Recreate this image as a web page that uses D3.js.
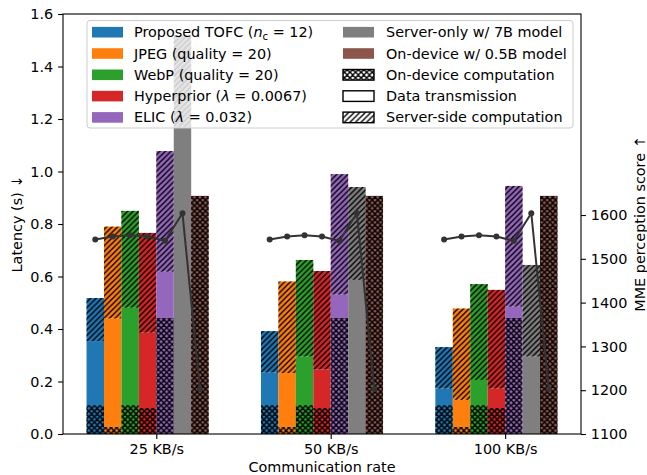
<!doctype html>
<html lang="en">
<head>
<meta charset="utf-8">
<script src="https://d3js.org/d3.v7.min.js"></script>
<style>
    html, body { margin: 0; padding: 0; background: #fff; }
    svg text { font-family: "DejaVu Sans", sans-serif; font-size: 14.4px; fill: #000; }
</style>
</head>
<body>
<svg id="svg" width="647" height="475"></svg>
<script>
    // ---- data ----
    var rates = ["25 KB/s", "50 KB/s", "100 KB/s"];
    var methods = ["Proposed TOFC", "JPEG", "WebP", "Hyperprior", "ELIC", "Server-only w/ 7B model", "On-device w/ 0.5B model"];
    var colors = ["#1f77b4", "#ff7f0e", "#2ca02c", "#d62728", "#9467bd", "#7f7f7f", "#8c564b"];

    // latency parts (s): one row per rate, one value per method
    var onDevice = [0.110, 0.028, 0.110, 0.099, 0.442, 0.0, 0.907];
    var transmission = [
        [0.244, 0.412, 0.371, 0.287, 0.176, 1.170, 0.0],
        [0.124, 0.204, 0.185, 0.147, 0.089, 0.587, 0.0],
        [0.063, 0.102, 0.096, 0.074, 0.043, 0.295, 0.0]
    ];
    var serverSide = [
        [0.164, 0.350, 0.369, 0.380, 0.460, 0.350, 0.0],
        [0.158, 0.349, 0.368, 0.375, 0.459, 0.354, 0.0],
        [0.158, 0.348, 0.365, 0.376, 0.460, 0.349, 0.0]
    ];
    // MME perception score (right axis)
    var scores = [
        [1544, 1551, 1554, 1551, 1541, 1604, 1203],
        [1544, 1551, 1554, 1551, 1541, 1604, 1203],
        [1544, 1551, 1554, 1551, 1541, 1604, 1203]
    ];
    var yTicks = [0.0, 0.2, 0.4, 0.6, 0.8, 1.0, 1.2, 1.4, 1.6];
    var y2Ticks = [1100, 1200, 1300, 1400, 1500, 1600];

    var svg = d3.select("#svg");
    var plotL = 63, plotR = 581, plotT = 14, plotB = 434;
    var barW = 0.1;

    var x = d3.scaleLinear().domain([-0.535, 2.435]).range([plotL, plotR]);
    var y = d3.scaleLinear().domain([0, 1.6]).range([plotB, plotT]);
    var y2 = d3.scaleLinear().domain([1100, 2059]).range([plotB, plotT]);

    // hatch patterns (matplotlib '///' and 'xxx', 18 lines per 100 px)
    var s = 100 / 18;
    var defs = svg.append("defs");
    var diagPath = "M0," + s + "L" + s + ",0" +
        "M" + (-s / 2) + "," + (s / 2) + "L" + (s / 2) + "," + (-s / 2) +
        "M" + (s / 2) + "," + (3 * s / 2) + "L" + (3 * s / 2) + "," + (s / 2);
    var backPath = "M0,0L" + s + "," + s +
        "M" + (-s / 2) + "," + (s / 2) + "L" + (s / 2) + "," + (3 * s / 2) +
        "M" + (s / 2) + "," + (-s / 2) + "L" + (3 * s / 2) + "," + (s / 2);
    defs.append("pattern").attr("id", "diag")
        .attr("patternUnits", "userSpaceOnUse").attr("width", s).attr("height", s)
        .append("path").attr("d", diagPath)
        .attr("stroke", "#000").attr("stroke-width", 1.4).attr("fill", "none");
    defs.append("pattern").attr("id", "cross")
        .attr("patternUnits", "userSpaceOnUse").attr("width", s).attr("height", s)
        .append("path").attr("d", diagPath + backPath)
        .attr("stroke", "#000").attr("stroke-width", 1.4).attr("fill", "none");

    // ---- bars ----
    var barLayer = svg.append("g");
    rates.forEach(function (rate, r) {
        methods.forEach(function (m, i) {
            var x0 = x(r + (i - 4) * barW), x1 = x(r + (i - 3) * barW);
            var parts = [
                [0, onDevice[i], "cross"],
                [onDevice[i], onDevice[i] + transmission[r][i], null],
                [onDevice[i] + transmission[r][i], onDevice[i] + transmission[r][i] + serverSide[r][i], "diag"]
            ];
            parts.forEach(function (p) {
                if (p[1] - p[0] <= 0) return;
                barLayer.append("rect")
                    .attr("x", x0).attr("width", x1 - x0)
                    .attr("y", y(p[1])).attr("height", y(p[0]) - y(p[1]))
                    .attr("fill", colors[i]);
                if (p[2]) {
                    barLayer.append("rect")
                        .attr("x", x0).attr("width", x1 - x0)
                        .attr("y", y(p[1])).attr("height", y(p[0]) - y(p[1]))
                        .attr("fill", "url(#" + p[2] + ")");
                }
            });
        });
    });

    // ---- score lines (one per rate group) ----
    var lineLayer = svg.append("g");
    var line = d3.line()
        .x(function (d) { return d[0]; })
        .y(function (d) { return d[1]; });
    rates.forEach(function (rate, r) {
        var pts = scores[r].map(function (v, i) {
            return [x(r + (i - 3.5) * barW), y2(v)];
        });
        lineLayer.append("path").attr("d", line(pts))
            .attr("fill", "none").attr("stroke", "#333").attr("stroke-width", 2);
        lineLayer.selectAll(null).data(pts).enter().append("circle")
            .attr("cx", function (d) { return d[0]; })
            .attr("cy", function (d) { return d[1]; })
            .attr("r", 3).attr("fill", "#333");
    });

    // ---- axes ----
    var axisL = svg.append("g").attr("transform", "translate(" + plotL + ",0)")
        .call(d3.axisLeft(y).tickValues(yTicks).tickFormat(d3.format(".1f")).tickSizeOuter(0).tickSize(4.9).tickPadding(4.9));
    var axisR = svg.append("g").attr("transform", "translate(" + plotR + ",0)")
        .call(d3.axisRight(y2).tickValues(y2Ticks).tickFormat(d3.format("d")).tickSizeOuter(0).tickSize(4.9).tickPadding(4.9));
    var axisB = svg.append("g").attr("transform", "translate(0," + plotB + ")")
        .call(d3.axisBottom(x).tickValues([0, 1, 2]).tickFormat(function (d) { return rates[d]; }).tickSizeOuter(0).tickSize(4.9).tickPadding(4.9));
    [axisL, axisR, axisB].forEach(function (a) {
        a.select(".domain").remove();
        a.selectAll("line").attr("stroke", "#000").attr("stroke-width", 1.1);
        a.selectAll("text").attr("font-size", null).attr("font-family", null);
    });
    svg.append("rect").attr("x", plotL).attr("y", plotT)
        .attr("width", plotR - plotL).attr("height", plotB - plotT)
        .attr("fill", "none").attr("stroke", "#000").attr("stroke-width", 1.1);

    svg.append("text").attr("transform", "translate(22,224) rotate(-90)")
        .attr("text-anchor", "middle").text("Latency (s) \u2193");
    svg.append("text").attr("transform", "translate(645,224) rotate(-90)")
        .attr("text-anchor", "middle").text("MME perception score \u2191");
    svg.append("text").attr("x", (plotL + plotR) / 2).attr("y", 472)
        .attr("text-anchor", "middle").text("Communication rate");

    // ---- legend ----
    var lg = svg.append("g");
    lg.append("rect").attr("x", 87).attr("y", 20.5).attr("width", 486).attr("height", 107.5)
        .attr("rx", 3).attr("fill", "#fff").attr("fill-opacity", 0.8)
        .attr("stroke", "#cccccc").attr("stroke-width", 1);
    function legendLabel(t, parts) {
        parts.forEach(function (p) {
            var ts = t.append("tspan").text(p.t);
            if (p.it) ts.style("font-style", "italic");
            if (p.sub) ts.attr("baseline-shift", "-25%").style("font-size", "10px");
        });
    }
    var labels1 = [
        [{t: "Proposed TOFC ("}, {t: "n", it: 1}, {t: "c", sub: 1}, {t: " = 12)"}],
        [{t: "JPEG (quality = 20)"}],
        [{t: "WebP (quality = 20)"}],
        [{t: "Hyperprior ("}, {t: "\u03bb", it: 1}, {t: " = 0.0067)"}],
        [{t: "ELIC ("}, {t: "\u03bb", it: 1}, {t: " = 0.032)"}]
    ];
    var labels2 = ["Server-only w/ 7B model", "On-device w/ 0.5B model", "On-device computation", "Data transmission", "Server-side computation"];
    var rowY = function (k) { return 32.2 + k * 21.3; };
    labels1.forEach(function (parts, k) {
        lg.append("rect").attr("x", 92).attr("y", rowY(k) - 5.3).attr("width", 31).attr("height", 10.6)
            .attr("fill", colors[k]);
        legendLabel(lg.append("text").attr("x", 134).attr("y", rowY(k) + 5), parts);
    });
    labels2.forEach(function (t, k) {
        var fill = k === 0 ? colors[5] : k === 1 ? colors[6] : "#fff";
        var hx = 343, hy = rowY(k) - 5.3;
        lg.append("rect").attr("x", hx).attr("y", hy).attr("width", 31).attr("height", 10.6)
            .attr("fill", fill);
        if (k >= 2) {
            if (k !== 3) {
                lg.append("rect").attr("x", hx).attr("y", hy).attr("width", 31).attr("height", 10.6)
                    .attr("fill", k === 2 ? "url(#cross)" : "url(#diag)");
            }
            lg.append("rect").attr("x", hx).attr("y", hy).attr("width", 31).attr("height", 10.6)
                .attr("fill", "none").attr("stroke", "#000").attr("stroke-width", 1.4);
        }
        lg.append("text").attr("x", 386).attr("y", rowY(k) + 5).text(t);
    });
</script>
</body>
</html>
